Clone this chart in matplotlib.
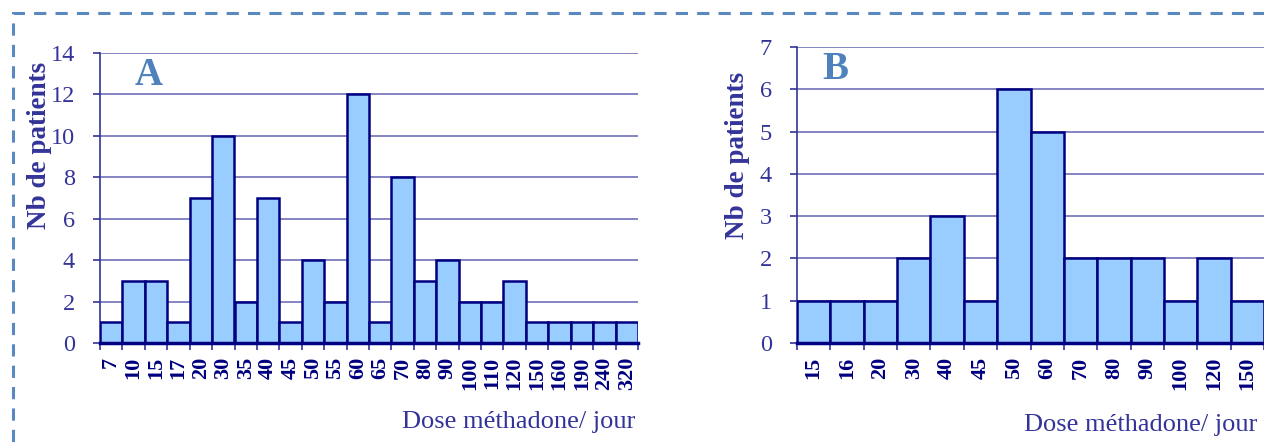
import matplotlib.pyplot as plt
from matplotlib.patches import Rectangle

# panel A
doses_a = ["7", "10", "15", "17", "20", "30", "35", "40", "45", "50", "55", "60",
           "65", "70", "80", "90", "100", "110", "120", "150", "160", "190", "240", "320"]
patients_a = [1, 3, 3, 1, 7, 10, 2, 7, 1, 4, 2, 12, 1, 8, 3, 4, 2, 2, 3, 1, 1, 1, 1, 1]

# panel B
doses_b = ["15", "16", "20", "30", "40", "45", "50", "60", "70", "80", "90", "100", "120", "150"]
patients_b = [1, 1, 1, 2, 3, 1, 6, 5, 2, 2, 2, 1, 2, 1]

W, H = 1264, 446
fill = "#99ccff"
edge = "#000080"
grid = "#6f6fb8"
txt = "#333399"
letter = "#4f81bd"
serif = ["Liberation Serif", "DejaVu Serif"]

fig = plt.figure(figsize=(W / 100, H / 100), dpi=100)


def panel(rect, doses, values, ymax, ystep, name, lx, ly):
    l, t, r, b = rect
    ax = fig.add_axes([l / W, (H - b) / H, (r - l) / W, (b - t) / H])
    n = len(values)
    ax.bar(range(n), values, width=1.0, color=fill, edgecolor=edge, linewidth=1.8, zorder=3)
    ax.set_xlim(-0.5, n - 0.5)
    ax.set_ylim(0, ymax)
    ax.set_yticks(range(0, ymax + 1, ystep))
    ax.yaxis.grid(True, color=grid, linewidth=1.2, zorder=0)
    for s in ["top", "right"]:
        ax.spines[s].set_visible(False)
    ax.spines["left"].set_color(txt)
    ax.spines["left"].set_linewidth(1.2)
    ax.spines["bottom"].set_color(edge)
    ax.spines["bottom"].set_linewidth(2.5)
    ax.spines["bottom"].set_zorder(4)
    ax.set_xticks(range(n))
    ax.set_xticklabels(doses, rotation=90, fontfamily=serif, fontweight="bold",
                       fontsize=16, color=edge)
    ax.set_xticks([k - 0.5 for k in range(n + 1)], minor=True)
    ax.tick_params(axis="x", which="major", length=0, pad=10)
    ax.tick_params(axis="x", which="minor", length=5, width=1.2, color=txt, direction="out")
    ax.tick_params(axis="y", length=5, width=1.2, color=txt, pad=13,
                   labelsize=17.5, labelcolor=txt)
    for lab in ax.get_yticklabels():
        lab.set_fontfamily(serif)
    ax.text(lx, ly, name, transform=ax.transAxes, fontfamily=serif, fontweight="bold",
            fontsize=28, color=letter, va="baseline")
    return ax


panel((100, 53, 638, 343), doses_a, patients_a, 14, 2, "A", 0.065, 0.89)
panel((797, 47, 1264, 343), doses_b, patients_b, 7, 1, "B", 0.054, 0.892)

for x, yc in [(40, 145), (737, 155)]:
    fig.text(x / W, (H - yc) / H, "Nb de patients", rotation=90, ha="center", va="center",
             fontfamily=serif, fontweight="bold", fontsize=19.5, color=txt)

for x, yb in [(635, 428), (1257, 431)]:
    fig.text(x / W, (H - yb) / H, "Dose méthadone/ jour", ha="right", va="baseline",
             fontfamily=serif, fontsize=19, color=txt)

# dashed frame, running off the right and bottom edges
fig.patches.append(Rectangle((13 / W, -0.1), 1.2, (H - 13) / H + 0.1, transform=fig.transFigure,
                             fill=False, edgecolor="#5a88c0", linewidth=2.2,
                             linestyle=(0, (4, 3))))

fig.savefig("out.png", dpi=100)
